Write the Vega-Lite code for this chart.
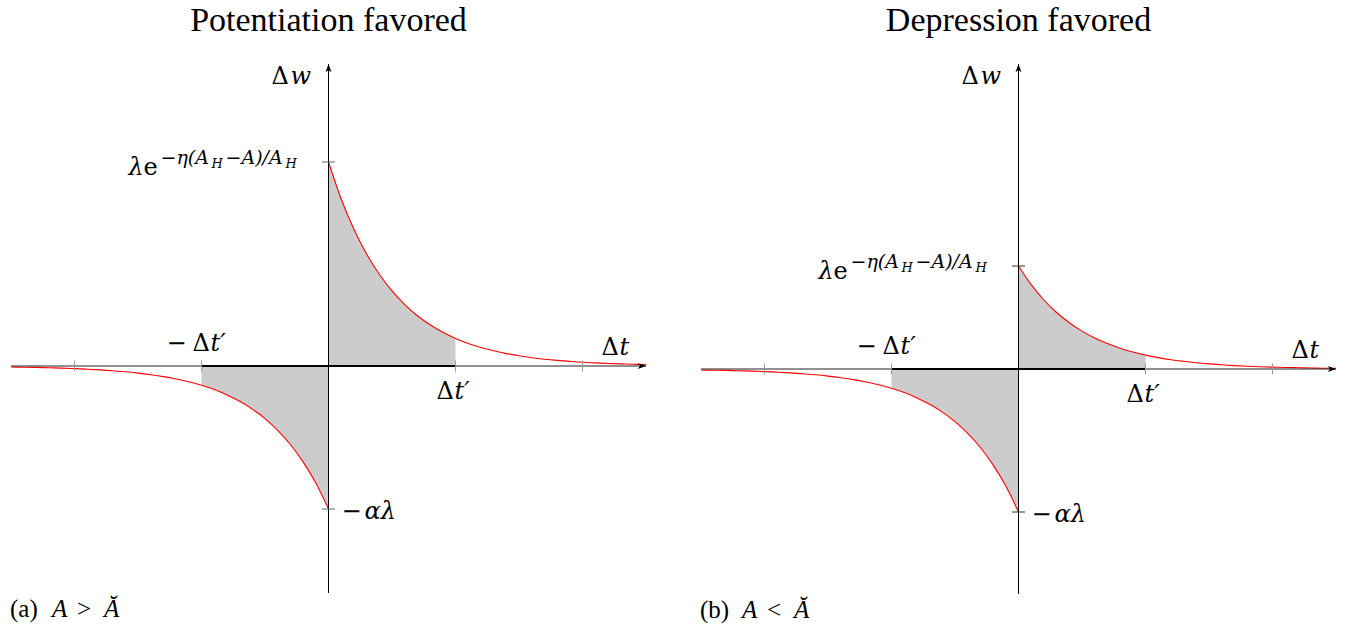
{
  "$schema": "https://vega.github.io/schema/vega-lite/v6.json",
  "background": "white",
  "padding": {"left": 8, "top": 4, "right": 0, "bottom": 0},
  "autosize": {"type": "pad"},
  "bounds": "flush",
  "spacing": 55,
  "config": {"view": {"stroke": null}, "text": {"font": "DejaVu Serif", "color": "#000", "baseline": "alphabetic", "align": "left"}},
  "datasets": {
    "potentiation": [
      {"t": 0, "w": 2.04, "b": "p"}, {"t": 0.1, "w": 1.67, "b": "p"}, {"t": 0.2, "w": 1.367, "b": "p"},
      {"t": 0.3, "w": 1.12, "b": "p"}, {"t": 0.4, "w": 0.917, "b": "p"}, {"t": 0.5, "w": 0.751, "b": "p"},
      {"t": 0.6, "w": 0.614, "b": "p"}, {"t": 0.7, "w": 0.503, "b": "p"}, {"t": 0.8, "w": 0.412, "b": "p"},
      {"t": 0.9, "w": 0.337, "b": "p"}, {"t": 1.0, "w": 0.276, "b": "p"}, {"t": 1.1, "w": 0.226, "b": "p"},
      {"t": 1.2, "w": 0.185, "b": "p"}, {"t": 1.3, "w": 0.152, "b": "p"}, {"t": 1.4, "w": 0.124, "b": "p"},
      {"t": 1.5, "w": 0.102, "b": "p"}, {"t": 1.6, "w": 0.083, "b": "p"}, {"t": 1.7, "w": 0.068, "b": "p"},
      {"t": 1.8, "w": 0.056, "b": "p"}, {"t": 1.9, "w": 0.046, "b": "p"}, {"t": 2.0, "w": 0.037, "b": "p"},
      {"t": 2.1, "w": 0.031, "b": "p"}, {"t": 2.2, "w": 0.025, "b": "p"}, {"t": 2.3, "w": 0.021, "b": "p"},
      {"t": 2.4, "w": 0.017, "b": "p"}, {"t": 2.5, "w": 0.014, "b": "p"},
      {"t": 0, "w": -1.43, "b": "d"}, {"t": -0.1, "w": -1.171, "b": "d"}, {"t": -0.2, "w": -0.959, "b": "d"},
      {"t": -0.3, "w": -0.785, "b": "d"}, {"t": -0.4, "w": -0.643, "b": "d"}, {"t": -0.5, "w": -0.526, "b": "d"},
      {"t": -0.6, "w": -0.431, "b": "d"}, {"t": -0.7, "w": -0.353, "b": "d"}, {"t": -0.8, "w": -0.289, "b": "d"},
      {"t": -0.9, "w": -0.236, "b": "d"}, {"t": -1.0, "w": -0.193, "b": "d"}, {"t": -1.1, "w": -0.158, "b": "d"},
      {"t": -1.2, "w": -0.13, "b": "d"}, {"t": -1.3, "w": -0.106, "b": "d"}, {"t": -1.4, "w": -0.087, "b": "d"},
      {"t": -1.5, "w": -0.071, "b": "d"}, {"t": -1.6, "w": -0.058, "b": "d"}, {"t": -1.7, "w": -0.048, "b": "d"},
      {"t": -1.8, "w": -0.039, "b": "d"}, {"t": -1.9, "w": -0.032, "b": "d"}, {"t": -2.0, "w": -0.026, "b": "d"},
      {"t": -2.1, "w": -0.021, "b": "d"}, {"t": -2.2, "w": -0.018, "b": "d"}, {"t": -2.3, "w": -0.014, "b": "d"},
      {"t": -2.4, "w": -0.012, "b": "d"}, {"t": -2.5, "w": -0.01, "b": "d"}
    ],
    "depression": [
      {"t": 0, "w": 1.03, "b": "p"}, {"t": 0.1, "w": 0.843, "b": "p"}, {"t": 0.2, "w": 0.69, "b": "p"},
      {"t": 0.3, "w": 0.565, "b": "p"}, {"t": 0.4, "w": 0.463, "b": "p"}, {"t": 0.5, "w": 0.379, "b": "p"},
      {"t": 0.6, "w": 0.31, "b": "p"}, {"t": 0.7, "w": 0.254, "b": "p"}, {"t": 0.8, "w": 0.208, "b": "p"},
      {"t": 0.9, "w": 0.17, "b": "p"}, {"t": 1.0, "w": 0.139, "b": "p"}, {"t": 1.1, "w": 0.114, "b": "p"},
      {"t": 1.2, "w": 0.093, "b": "p"}, {"t": 1.3, "w": 0.077, "b": "p"}, {"t": 1.4, "w": 0.063, "b": "p"},
      {"t": 1.5, "w": 0.051, "b": "p"}, {"t": 1.6, "w": 0.042, "b": "p"}, {"t": 1.7, "w": 0.034, "b": "p"},
      {"t": 1.8, "w": 0.028, "b": "p"}, {"t": 1.9, "w": 0.023, "b": "p"}, {"t": 2.0, "w": 0.019, "b": "p"},
      {"t": 2.1, "w": 0.015, "b": "p"}, {"t": 2.2, "w": 0.013, "b": "p"}, {"t": 2.3, "w": 0.01, "b": "p"},
      {"t": 2.4, "w": 0.008, "b": "p"}, {"t": 2.5, "w": 0.007, "b": "p"},
      {"t": 0, "w": -1.43, "b": "d"}, {"t": -0.1, "w": -1.171, "b": "d"}, {"t": -0.2, "w": -0.959, "b": "d"},
      {"t": -0.3, "w": -0.785, "b": "d"}, {"t": -0.4, "w": -0.643, "b": "d"}, {"t": -0.5, "w": -0.526, "b": "d"},
      {"t": -0.6, "w": -0.431, "b": "d"}, {"t": -0.7, "w": -0.353, "b": "d"}, {"t": -0.8, "w": -0.289, "b": "d"},
      {"t": -0.9, "w": -0.236, "b": "d"}, {"t": -1.0, "w": -0.193, "b": "d"}, {"t": -1.1, "w": -0.158, "b": "d"},
      {"t": -1.2, "w": -0.13, "b": "d"}, {"t": -1.3, "w": -0.106, "b": "d"}, {"t": -1.4, "w": -0.087, "b": "d"},
      {"t": -1.5, "w": -0.071, "b": "d"}, {"t": -1.6, "w": -0.058, "b": "d"}, {"t": -1.7, "w": -0.048, "b": "d"},
      {"t": -1.8, "w": -0.039, "b": "d"}, {"t": -1.9, "w": -0.032, "b": "d"}, {"t": -2.0, "w": -0.026, "b": "d"},
      {"t": -2.1, "w": -0.021, "b": "d"}, {"t": -2.2, "w": -0.018, "b": "d"}, {"t": -2.3, "w": -0.014, "b": "d"},
      {"t": -2.4, "w": -0.012, "b": "d"}, {"t": -2.5, "w": -0.01, "b": "d"}
    ]
  },
  "hconcat": [
    {
      "width": 635,
      "height": 529,
      "layer": [
        {
          "data": {"name": "potentiation"},
          "transform": [{"filter": "abs(datum.t) <= 1.0001"}],
          "mark": {"type": "area", "color": "#cccccc", "interpolate": "monotone"},
          "encoding": {
            "x": {"field": "t", "type": "quantitative", "axis": null, "scale": {"domain": [-2.5, 2.5], "nice": false, "zero": false}},
            "y": {"field": "w", "type": "quantitative", "axis": null, "scale": {"domain": [-2.27, 3.02], "nice": false, "zero": false}},
            "y2": {"datum": 0},
            "detail": {"field": "b"}
          }
        },
        {
          "data": {"name": "potentiation"},
          "mark": {"type": "line", "color": "#ff0000", "strokeWidth": 1.1, "interpolate": "monotone"},
          "encoding": {
            "x": {"field": "t", "type": "quantitative", "axis": null, "scale": {"domain": [-2.5, 2.5], "nice": false, "zero": false}},
            "y": {"field": "w", "type": "quantitative", "axis": null, "scale": {"domain": [-2.27, 3.02], "nice": false, "zero": false}},
            "detail": {"field": "b"}
          }
        },
        {
          "data": {"values": [{}]},
          "mark": {"type": "rule", "color": "#222222", "strokeWidth": 1},
          "encoding": {"x": {"datum": -2.5}, "x2": {"datum": 2.5}, "y": {"datum": 0}}
        },
        {
          "data": {"values": [{}]},
          "mark": {"type": "rule", "color": "#000000", "strokeWidth": 1.8},
          "encoding": {"x": {"datum": -1}, "x2": {"datum": 1}, "y": {"datum": 0}}
        },
        {
          "data": {"values": [{}]},
          "mark": {"type": "rule", "color": "#000000", "strokeWidth": 1},
          "encoding": {"x": {"datum": 0}, "y": {"datum": -2.27}, "y2": {"datum": 3.02}}
        },
        {
          "data": {"values": [{"t": -2}, {"t": -1}, {"t": 1}, {"t": 2}]},
          "mark": {"type": "tick", "orient": "vertical", "color": "#999999", "size": 11, "thickness": 1, "opacity": 1},
          "encoding": {"x": {"field": "t", "type": "quantitative"}, "y": {"datum": 0}}
        },
        {
          "data": {"values": [{"w": 2.04}, {"w": -1.43}]},
          "mark": {"type": "tick", "orient": "horizontal", "color": "#666666", "size": 13, "thickness": 1, "opacity": 1},
          "encoding": {"x": {"datum": 0}, "y": {"field": "w", "type": "quantitative"}}
        },
        {
          "data": {"values": [{}]},
          "mark": {"type": "point", "shape": "M0,0L-3,-1.1L-2.2,0L-3,1.1Z", "filled": true, "color": "#000000", "size": 30, "opacity": 1},
          "encoding": {"x": {"datum": 2.5}, "y": {"datum": 0}}
        },
        {
          "data": {"values": [{}]},
          "mark": {"type": "point", "shape": "M0,0L-1.1,3L0,2.2L1.1,3Z", "filled": true, "color": "#000000", "size": 30, "opacity": 1},
          "encoding": {"x": {"datum": 0}, "y": {"datum": 3.02}}
        },
        {
          "data": {"values": [{}]},
          "mark": {"type": "text", "text": "Potentiation favored", "font": "Liberation Serif", "fontSize": 34, "align": "center", "dy": -33},
          "encoding": {"x": {"datum": 0}, "y": {"datum": 3.02}}
        },
        {
          "data": {"values": [{}]},
          "mark": {"type": "text", "text": "Δ", "fontSize": 24, "dx": -57, "dy": 20},
          "encoding": {"x": {"datum": 0}, "y": {"datum": 3.02}}
        },
        {
          "data": {"values": [{}]},
          "mark": {"type": "text", "text": "w", "fontStyle": "italic", "fontSize": 24, "dx": -38, "dy": 20},
          "encoding": {"x": {"datum": 0}, "y": {"datum": 3.02}}
        },
        {
          "data": {"values": [{}]},
          "mark": {"type": "text", "text": "λ", "fontStyle": "italic", "fontSize": 24, "dx": -200, "dy": 13},
          "encoding": {"x": {"datum": 0}, "y": {"datum": 2.04}}
        },
        {
          "data": {"values": [{}]},
          "mark": {"type": "text", "text": "e", "fontSize": 24, "dx": -185, "dy": 13},
          "encoding": {"x": {"datum": 0}, "y": {"datum": 2.04}}
        },
        {
          "data": {"values": [{}]},
          "mark": {"type": "text", "text": "−η(A", "fontStyle": "italic", "fontSize": 19, "dx": -168, "dy": 2},
          "encoding": {"x": {"datum": 0}, "y": {"datum": 2.04}}
        },
        {
          "data": {"values": [{}]},
          "mark": {"type": "text", "text": "H", "fontStyle": "italic", "fontSize": 13, "dx": -117, "dy": 6},
          "encoding": {"x": {"datum": 0}, "y": {"datum": 2.04}}
        },
        {
          "data": {"values": [{}]},
          "mark": {"type": "text", "text": "−A)/A", "fontStyle": "italic", "fontSize": 19, "dx": -103, "dy": 2},
          "encoding": {"x": {"datum": 0}, "y": {"datum": 2.04}}
        },
        {
          "data": {"values": [{}]},
          "mark": {"type": "text", "text": "H", "fontStyle": "italic", "fontSize": 13, "dx": -43, "dy": 6},
          "encoding": {"x": {"datum": 0}, "y": {"datum": 2.04}}
        },
        {
          "data": {"values": [{}]},
          "mark": {"type": "text", "text": "−", "fontSize": 24, "dx": 13, "dy": 10},
          "encoding": {"x": {"datum": 0}, "y": {"datum": -1.43}}
        },
        {
          "data": {"values": [{}]},
          "mark": {"type": "text", "text": "αλ", "fontStyle": "italic", "fontSize": 24, "dx": 36, "dy": 10},
          "encoding": {"x": {"datum": 0}, "y": {"datum": -1.43}}
        },
        {
          "data": {"values": [{}]},
          "mark": {"type": "text", "text": "−", "fontSize": 24, "dx": -35, "dy": -15},
          "encoding": {"x": {"datum": -1}, "y": {"datum": 0}}
        },
        {
          "data": {"values": [{}]},
          "mark": {"type": "text", "text": "Δ", "fontSize": 24, "dx": -9, "dy": -15},
          "encoding": {"x": {"datum": -1}, "y": {"datum": 0}}
        },
        {
          "data": {"values": [{}]},
          "mark": {"type": "text", "text": "t′", "fontStyle": "italic", "fontSize": 24, "dx": 9, "dy": -15},
          "encoding": {"x": {"datum": -1}, "y": {"datum": 0}}
        },
        {
          "data": {"values": [{}]},
          "mark": {"type": "text", "text": "Δ", "fontSize": 24, "dx": -19, "dy": 33},
          "encoding": {"x": {"datum": 1}, "y": {"datum": 0}}
        },
        {
          "data": {"values": [{}]},
          "mark": {"type": "text", "text": "t′", "fontStyle": "italic", "fontSize": 24, "dx": -1, "dy": 33},
          "encoding": {"x": {"datum": 1}, "y": {"datum": 0}}
        },
        {
          "data": {"values": [{}]},
          "mark": {"type": "text", "text": "Δ", "fontSize": 24, "dx": 19, "dy": -11},
          "encoding": {"x": {"datum": 2}, "y": {"datum": 0}}
        },
        {
          "data": {"values": [{}]},
          "mark": {"type": "text", "text": "t", "fontStyle": "italic", "fontSize": 24, "dx": 37, "dy": -11},
          "encoding": {"x": {"datum": 2}, "y": {"datum": 0}}
        },
        {
          "data": {"values": [{}]},
          "mark": {"type": "text", "text": "(a)", "font": "Liberation Serif", "fontSize": 25, "dx": -1, "dy": 24},
          "encoding": {"x": {"datum": -2.5}, "y": {"datum": -2.27}}
        },
        {
          "data": {"values": [{}]},
          "mark": {"type": "text", "text": "A", "font": "Liberation Serif", "fontStyle": "italic", "fontSize": 25, "dx": 41, "dy": 24},
          "encoding": {"x": {"datum": -2.5}, "y": {"datum": -2.27}}
        },
        {
          "data": {"values": [{}]},
          "mark": {"type": "text", "text": ">", "font": "Liberation Serif", "fontSize": 25, "dx": 66, "dy": 24},
          "encoding": {"x": {"datum": -2.5}, "y": {"datum": -2.27}}
        },
        {
          "data": {"values": [{}]},
          "mark": {"type": "text", "text": "Ă", "font": "Liberation Serif", "fontStyle": "italic", "fontSize": 25, "dx": 93, "dy": 24},
          "encoding": {"x": {"datum": -2.5}, "y": {"datum": -2.27}}
        }
      ]
    },
    {
      "width": 635,
      "height": 530,
      "layer": [
        {
          "data": {"name": "depression"},
          "transform": [{"filter": "abs(datum.t) <= 1.0001"}],
          "mark": {"type": "area", "color": "#cccccc", "interpolate": "monotone"},
          "encoding": {
            "x": {"field": "t", "type": "quantitative", "axis": null, "scale": {"domain": [-2.5, 2.5], "nice": false, "zero": false}},
            "y": {"field": "w", "type": "quantitative", "axis": null, "scale": {"domain": [-2.25, 3.05], "nice": false, "zero": false}},
            "y2": {"datum": 0},
            "detail": {"field": "b"}
          }
        },
        {
          "data": {"name": "depression"},
          "mark": {"type": "line", "color": "#ff0000", "strokeWidth": 1.1, "interpolate": "monotone"},
          "encoding": {
            "x": {"field": "t", "type": "quantitative", "axis": null, "scale": {"domain": [-2.5, 2.5], "nice": false, "zero": false}},
            "y": {"field": "w", "type": "quantitative", "axis": null, "scale": {"domain": [-2.25, 3.05], "nice": false, "zero": false}},
            "detail": {"field": "b"}
          }
        },
        {
          "data": {"values": [{}]},
          "mark": {"type": "rule", "color": "#222222", "strokeWidth": 1},
          "encoding": {"x": {"datum": -2.5}, "x2": {"datum": 2.5}, "y": {"datum": 0}}
        },
        {
          "data": {"values": [{}]},
          "mark": {"type": "rule", "color": "#000000", "strokeWidth": 1.8},
          "encoding": {"x": {"datum": -1}, "x2": {"datum": 1}, "y": {"datum": 0}}
        },
        {
          "data": {"values": [{}]},
          "mark": {"type": "rule", "color": "#000000", "strokeWidth": 1},
          "encoding": {"x": {"datum": 0}, "y": {"datum": -2.25}, "y2": {"datum": 3.05}}
        },
        {
          "data": {"values": [{"t": -2}, {"t": -1}, {"t": 1}, {"t": 2}]},
          "mark": {"type": "tick", "orient": "vertical", "color": "#999999", "size": 11, "thickness": 1, "opacity": 1},
          "encoding": {"x": {"field": "t", "type": "quantitative"}, "y": {"datum": 0}}
        },
        {
          "data": {"values": [{"w": 1.03}, {"w": -1.43}]},
          "mark": {"type": "tick", "orient": "horizontal", "color": "#333333", "size": 13, "thickness": 1, "opacity": 1},
          "encoding": {"x": {"datum": 0}, "y": {"field": "w", "type": "quantitative"}}
        },
        {
          "data": {"values": [{}]},
          "mark": {"type": "point", "shape": "M0,0L-3,-1.1L-2.2,0L-3,1.1Z", "filled": true, "color": "#000000", "size": 30, "opacity": 1},
          "encoding": {"x": {"datum": 2.5}, "y": {"datum": 0}}
        },
        {
          "data": {"values": [{}]},
          "mark": {"type": "point", "shape": "M0,0L-1.1,3L0,2.2L1.1,3Z", "filled": true, "color": "#000000", "size": 30, "opacity": 1},
          "encoding": {"x": {"datum": 0}, "y": {"datum": 3.05}}
        },
        {
          "data": {"values": [{}]},
          "mark": {"type": "text", "text": "Depression favored", "font": "Liberation Serif", "fontSize": 34, "align": "center", "dy": -33},
          "encoding": {"x": {"datum": 0}, "y": {"datum": 3.05}}
        },
        {
          "data": {"values": [{}]},
          "mark": {"type": "text", "text": "Δ", "fontSize": 24, "dx": -57, "dy": 20},
          "encoding": {"x": {"datum": 0}, "y": {"datum": 3.05}}
        },
        {
          "data": {"values": [{}]},
          "mark": {"type": "text", "text": "w", "fontStyle": "italic", "fontSize": 24, "dx": -38, "dy": 20},
          "encoding": {"x": {"datum": 0}, "y": {"datum": 3.05}}
        },
        {
          "data": {"values": [{}]},
          "mark": {"type": "text", "text": "λ", "fontStyle": "italic", "fontSize": 24, "dx": -200, "dy": 13},
          "encoding": {"x": {"datum": 0}, "y": {"datum": 1.03}}
        },
        {
          "data": {"values": [{}]},
          "mark": {"type": "text", "text": "e", "fontSize": 24, "dx": -185, "dy": 13},
          "encoding": {"x": {"datum": 0}, "y": {"datum": 1.03}}
        },
        {
          "data": {"values": [{}]},
          "mark": {"type": "text", "text": "−η(A", "fontStyle": "italic", "fontSize": 19, "dx": -168, "dy": 2},
          "encoding": {"x": {"datum": 0}, "y": {"datum": 1.03}}
        },
        {
          "data": {"values": [{}]},
          "mark": {"type": "text", "text": "H", "fontStyle": "italic", "fontSize": 13, "dx": -117, "dy": 6},
          "encoding": {"x": {"datum": 0}, "y": {"datum": 1.03}}
        },
        {
          "data": {"values": [{}]},
          "mark": {"type": "text", "text": "−A)/A", "fontStyle": "italic", "fontSize": 19, "dx": -103, "dy": 2},
          "encoding": {"x": {"datum": 0}, "y": {"datum": 1.03}}
        },
        {
          "data": {"values": [{}]},
          "mark": {"type": "text", "text": "H", "fontStyle": "italic", "fontSize": 13, "dx": -43, "dy": 6},
          "encoding": {"x": {"datum": 0}, "y": {"datum": 1.03}}
        },
        {
          "data": {"values": [{}]},
          "mark": {"type": "text", "text": "−", "fontSize": 24, "dx": 13, "dy": 10},
          "encoding": {"x": {"datum": 0}, "y": {"datum": -1.43}}
        },
        {
          "data": {"values": [{}]},
          "mark": {"type": "text", "text": "αλ", "fontStyle": "italic", "fontSize": 24, "dx": 36, "dy": 10},
          "encoding": {"x": {"datum": 0}, "y": {"datum": -1.43}}
        },
        {
          "data": {"values": [{}]},
          "mark": {"type": "text", "text": "−", "fontSize": 24, "dx": -35, "dy": -15},
          "encoding": {"x": {"datum": -1}, "y": {"datum": 0}}
        },
        {
          "data": {"values": [{}]},
          "mark": {"type": "text", "text": "Δ", "fontSize": 24, "dx": -9, "dy": -15},
          "encoding": {"x": {"datum": -1}, "y": {"datum": 0}}
        },
        {
          "data": {"values": [{}]},
          "mark": {"type": "text", "text": "t′", "fontStyle": "italic", "fontSize": 24, "dx": 9, "dy": -15},
          "encoding": {"x": {"datum": -1}, "y": {"datum": 0}}
        },
        {
          "data": {"values": [{}]},
          "mark": {"type": "text", "text": "Δ", "fontSize": 24, "dx": -19, "dy": 33},
          "encoding": {"x": {"datum": 1}, "y": {"datum": 0}}
        },
        {
          "data": {"values": [{}]},
          "mark": {"type": "text", "text": "t′", "fontStyle": "italic", "fontSize": 24, "dx": -1, "dy": 33},
          "encoding": {"x": {"datum": 1}, "y": {"datum": 0}}
        },
        {
          "data": {"values": [{}]},
          "mark": {"type": "text", "text": "Δ", "fontSize": 24, "dx": 19, "dy": -11},
          "encoding": {"x": {"datum": 2}, "y": {"datum": 0}}
        },
        {
          "data": {"values": [{}]},
          "mark": {"type": "text", "text": "t", "fontStyle": "italic", "fontSize": 24, "dx": 37, "dy": -11},
          "encoding": {"x": {"datum": 2}, "y": {"datum": 0}}
        },
        {
          "data": {"values": [{}]},
          "mark": {"type": "text", "text": "(b)", "font": "Liberation Serif", "fontSize": 25, "dx": -1, "dy": 24},
          "encoding": {"x": {"datum": -2.5}, "y": {"datum": -2.25}}
        },
        {
          "data": {"values": [{}]},
          "mark": {"type": "text", "text": "A", "font": "Liberation Serif", "fontStyle": "italic", "fontSize": 25, "dx": 41, "dy": 24},
          "encoding": {"x": {"datum": -2.5}, "y": {"datum": -2.25}}
        },
        {
          "data": {"values": [{}]},
          "mark": {"type": "text", "text": "<", "font": "Liberation Serif", "fontSize": 25, "dx": 66, "dy": 24},
          "encoding": {"x": {"datum": -2.5}, "y": {"datum": -2.25}}
        },
        {
          "data": {"values": [{}]},
          "mark": {"type": "text", "text": "Ă", "font": "Liberation Serif", "fontStyle": "italic", "fontSize": 25, "dx": 93, "dy": 24},
          "encoding": {"x": {"datum": -2.5}, "y": {"datum": -2.25}}
        }
      ]
    }
  ]
}
